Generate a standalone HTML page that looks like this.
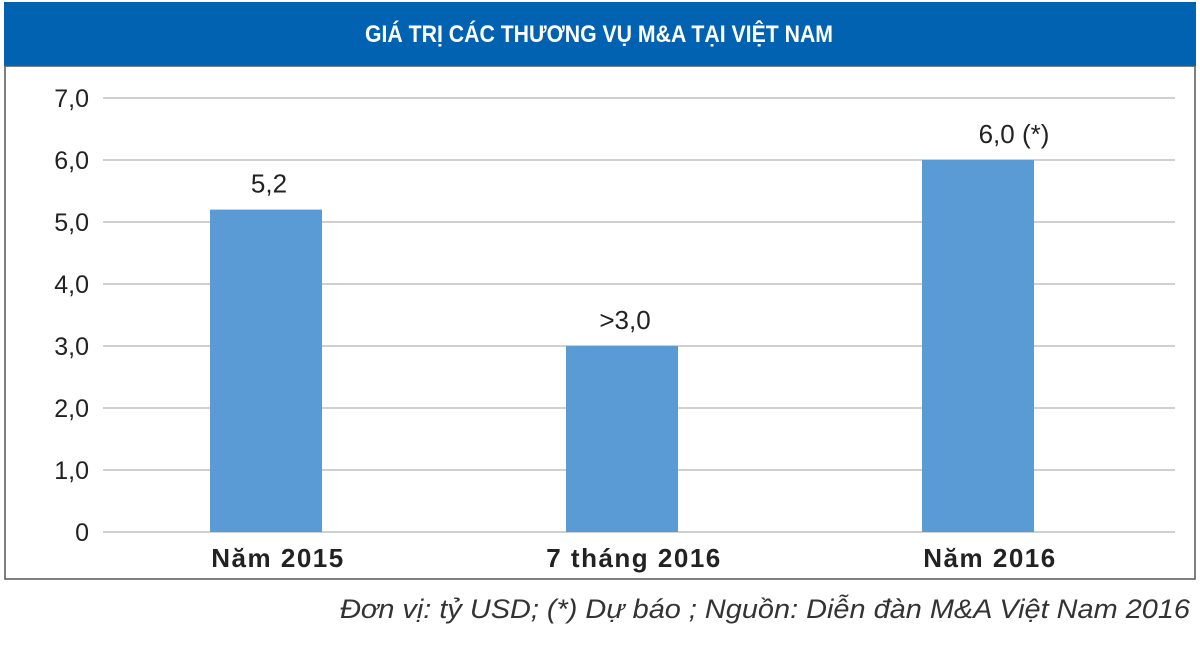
<!DOCTYPE html>
<html><head><meta charset="utf-8"><style>
body{margin:0;width:1200px;height:645px;background:#fff;overflow:hidden;font-family:"Liberation Sans",sans-serif}
</style></head><body>
<svg width="1200" height="645">
<rect x="4" y="2" width="1192" height="64" fill="#0062b0"/>
<text x="365" y="42" textLength="468" lengthAdjust="spacingAndGlyphs" fill="#fff" font-size="24" font-weight="bold">GIÁ TRỊ CÁC THƯƠNG VỤ M&amp;A TẠI VIỆT NAM</text>
<rect x="5" y="66" width="1190" height="513" fill="none" stroke="#555" stroke-width="1.5"/>
<g id="grid"></g><g id="bars"></g>
<text x="340" y="618" textLength="850" lengthAdjust="spacingAndGlyphs" font-size="27" font-style="italic" fill="#333">Đơn vị: tỷ USD; (*) Dự báo ; Nguồn: Diễn đàn M&amp;A Việt Nam 2016</text>
</svg>
<script>
const categories=["Năm 2015","7 tháng 2016","Năm 2016"];
const values=[5.2,3.0,6.0];
const valueLabels=["5,2",">3,0","6,0 (*)"];
const ticks=[0,1,2,3,4,5,6,7];
const tickLabels=["0","1,0","2,0","3,0","4,0","5,0","6,0","7,0"];
const NS="http://www.w3.org/2000/svg";
const y=v=>532-v*62;
const x=i=>266+i*356;
function mk(t,a,txt){const e=document.createElementNS(NS,t);for(const k in a)e.setAttribute(k,a[k]);if(txt!=null)e.textContent=txt;return e;}
const g=document.getElementById('grid'),b=document.getElementById('bars');
ticks.forEach((t,i)=>{
 const l=mk('line',{x1:103,x2:1175,y1:y(t),y2:y(t),stroke:'#d0d0d0','stroke-width':2});
 
 
 g.appendChild(l);
 const tx=mk('text',{x:89,y:y(t)+9,'text-anchor':'end','font-size':25,fill:'#222'},tickLabels[i]);
 
 
 g.appendChild(tx);
});
values.forEach((v,i)=>{
 const r=mk('rect',{x:x(i)-56,y:y(v),width:112,height:y(0)-y(v),fill:'#5b9bd5'});
 
 
 b.appendChild(r);
 const long=valueLabels[i].length>5;
 const vl=mk('text',{x:x(i)+(long?36:3),y:y(v)-17,'text-anchor':'middle','font-size':26,fill:'#222'},valueLabels[i]);
 
 
 b.appendChild(vl);
 const cl=mk('text',{x:x(i)+12,y:567,'text-anchor':'middle','font-size':26,'font-weight':'bold',fill:'#222','letter-spacing':1.5},categories[i]);
 
 
 b.appendChild(cl);
});
</script>
</body></html>
